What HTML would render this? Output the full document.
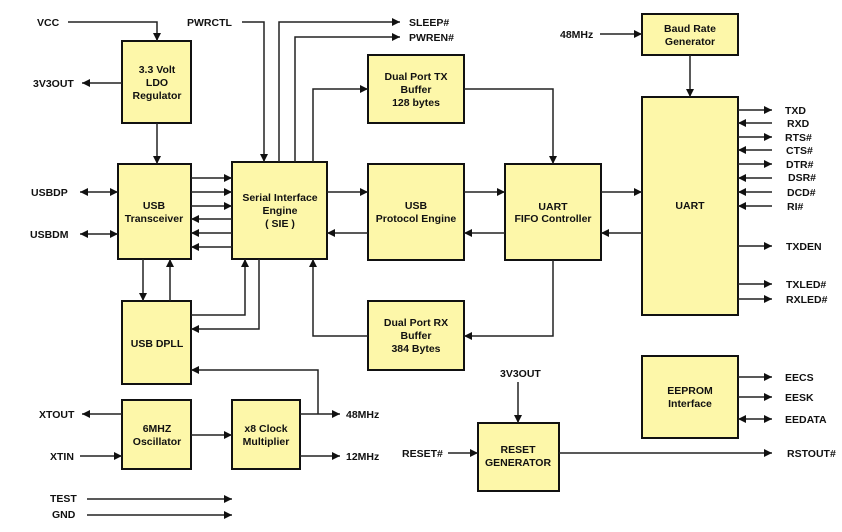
<!DOCTYPE html>
<html><head><meta charset="utf-8"><style>body{margin:0;background:#fff}svg{display:block}</style></head><body>
<svg width="842" height="532" viewBox="0 0 842 532" xmlns="http://www.w3.org/2000/svg" font-family="Liberation Sans, Arial, sans-serif" font-size="10.5" font-weight="bold" fill="#111">
<defs>
<marker id="a" viewBox="0 0 10 10" refX="10" refY="5" markerWidth="11" markerHeight="8" orient="auto-start-reverse" markerUnits="userSpaceOnUse"><path d="M0,0L10,5L0,10z" fill="#111"/></marker>
</defs>
<g fill="#fdf7a9" stroke="#111" stroke-width="2">
<rect x="122" y="41" width="69" height="82"/>
<rect x="118" y="164" width="73" height="95"/>
<rect x="232" y="162" width="95" height="97"/>
<rect x="368" y="55" width="96" height="68"/>
<rect x="368" y="164" width="96" height="96"/>
<rect x="505" y="164" width="96" height="96"/>
<rect x="642" y="14" width="96" height="41"/>
<rect x="642" y="97" width="96" height="218"/>
<rect x="122" y="301" width="69" height="83"/>
<rect x="122" y="400" width="69" height="69"/>
<rect x="232" y="400" width="68" height="69"/>
<rect x="368" y="301" width="96" height="69"/>
<rect x="642" y="356" width="96" height="82"/>
<rect x="478" y="423" width="81" height="68"/>
</g>
<g stroke="#222" stroke-width="1.5" fill="none" marker-end="url(#a)">
<path d="M68 22H157V41"/>
<path d="M122 83H82"/>
<path d="M157 123V164"/>
<path d="M80 192H118" marker-start="url(#a)"/>
<path d="M80 234H118" marker-start="url(#a)"/>
<path d="M191 178H232"/><path d="M191 192H232"/><path d="M191 206H232"/>
<path d="M232 219H191"/><path d="M232 233H191"/><path d="M232 247H191"/>
<path d="M242 22H264V162"/>
<path d="M279 162V22H400"/>
<path d="M295 162V37H400"/>
<path d="M313 162V89H368"/>
<path d="M327 192H368"/><path d="M368 233H327"/>
<path d="M464 192H505"/><path d="M505 233H464"/>
<path d="M601 192H642"/><path d="M642 233H601"/>
<path d="M464 89H553V164"/>
<path d="M553 260V336H464"/>
<path d="M368 336H313V259"/>
<path d="M143 259V301"/><path d="M170 301V259"/>
<path d="M191 315H245V259"/>
<path d="M259 259V329H191"/>
<path d="M300 414H340"/>
<path d="M318 414V370H191"/>
<path d="M300 456H340"/>
<path d="M191 435H232"/>
<path d="M122 414H82"/>
<path d="M80 456H122"/>
<path d="M87 499H232"/><path d="M87 515H232"/>
<path d="M600 34H642"/>
<path d="M690 55V97"/>
<path d="M738 110H772"/><path d="M772 123H738"/><path d="M738 137H772"/><path d="M772 150H738"/>
<path d="M738 164H772"/><path d="M772 178H738"/><path d="M772 192H738"/><path d="M772 206H738"/>
<path d="M738 246H772"/><path d="M738 284H772"/><path d="M738 299H772"/>
<path d="M738 377H772"/><path d="M738 397H772"/><path d="M738 419H772" marker-start="url(#a)"/>
<path d="M559 453H772"/>
<path d="M518 382V423"/>
<path d="M448 453H478"/>
</g>
<g text-anchor="middle">
<text x="157" y="73">3.3 Volt</text><text x="157" y="86">LDO</text><text x="157" y="99">Regulator</text>
<text x="154" y="209">USB</text><text x="154" y="222">Transceiver</text>
<text x="280" y="201">Serial Interface</text><text x="280" y="214">Engine</text><text x="280" y="227">( SIE )</text>
<text x="416" y="80">Dual Port TX</text><text x="416" y="93">Buffer</text><text x="416" y="106">128 bytes</text>
<text x="416" y="209">USB</text><text x="416" y="222">Protocol Engine</text>
<text x="553" y="210">UART</text><text x="553" y="222">FIFO Controller</text>
<text x="690" y="32">Baud Rate</text><text x="690" y="45">Generator</text>
<text x="690" y="209">UART</text>
<text x="157" y="347">USB DPLL</text>
<text x="157" y="432">6MHZ</text><text x="157" y="445">Oscillator</text>
<text x="266" y="432">x8 Clock</text><text x="266" y="445">Multiplier</text>
<text x="416" y="326">Dual Port RX</text><text x="416" y="339">Buffer</text><text x="416" y="352">384 Bytes</text>
<text x="690" y="394">EEPROM</text><text x="690" y="407">Interface</text>
<text x="518" y="453">RESET</text><text x="518" y="466">GENERATOR</text>
</g>
<g>
<text x="37" y="26">VCC</text>
<text x="33" y="87">3V3OUT</text>
<text x="31" y="196">USBDP</text>
<text x="30" y="238">USBDM</text>
<text x="187" y="26">PWRCTL</text>
<text x="409" y="26">SLEEP#</text>
<text x="409" y="41">PWREN#</text>
<text x="39" y="418">XTOUT</text>
<text x="50" y="460">XTIN</text>
<text x="346" y="418">48MHz</text>
<text x="346" y="460">12MHz</text>
<text x="50" y="502">TEST</text>
<text x="52" y="518">GND</text>
<text x="560" y="38">48MHz</text>
<text x="785" y="114">TXD</text><text x="787" y="127">RXD</text><text x="785" y="141">RTS#</text><text x="786" y="154">CTS#</text>
<text x="786" y="168">DTR#</text><text x="788" y="181">DSR#</text><text x="787" y="196">DCD#</text><text x="787" y="210">RI#</text>
<text x="786" y="250">TXDEN</text><text x="786" y="288">TXLED#</text><text x="786" y="303">RXLED#</text>
<text x="785" y="381">EECS</text><text x="785" y="401">EESK</text><text x="785" y="423">EEDATA</text>
<text x="787" y="457">RSTOUT#</text>
<text x="500" y="377">3V3OUT</text>
<text x="402" y="457">RESET#</text>
</g>
</svg>
</body></html>
